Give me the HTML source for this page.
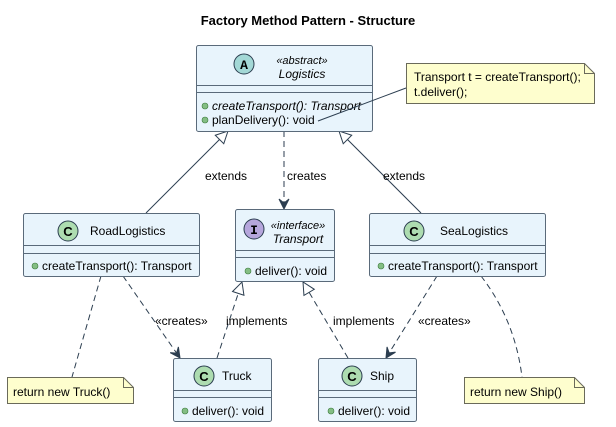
<!DOCTYPE html>
<html><head><meta charset="utf-8"><style>
html,body{margin:0;padding:0;background:#fff;}
svg{display:block;font-family:"Liberation Sans",sans-serif;}
</style></head><body>
<svg width="616" height="427" viewBox="0 0 616 427" xmlns="http://www.w3.org/2000/svg">
<defs>
<marker id="tri" markerWidth="14" markerHeight="14" refX="13" refY="7" orient="auto" markerUnits="userSpaceOnUse">
<path d="M1,1 L13,7 L1,13 Z" fill="#fff" stroke="#2c3e50" stroke-width="1"/></marker>
<marker id="arr" markerWidth="12" markerHeight="12" refX="11" refY="6" orient="auto" markerUnits="userSpaceOnUse">
<path d="M1,1 L11,6 L1,11 L5,6 Z" fill="#2c3e50" stroke="#2c3e50" stroke-width="1"/></marker>
</defs>
<text x="308" y="25" text-anchor="middle" font-size="13" font-weight="bold">Factory Method Pattern - Structure</text>

<g stroke="#2c3e50" stroke-width="1" fill="none">
<line x1="146" y1="213" x2="228" y2="131" marker-end="url(#tri)"/>
<line x1="421" y1="213" x2="339" y2="131" marker-end="url(#tri)"/>
<line x1="284" y1="131" x2="284" y2="209" stroke-dasharray="6,4" marker-end="url(#arr)"/>
<line x1="123" y1="276" x2="180" y2="358" stroke-dasharray="6,4" marker-end="url(#arr)"/>
<line x1="437" y1="276" x2="386" y2="358" stroke-dasharray="6,4" marker-end="url(#arr)"/>
<line x1="217" y1="358" x2="242" y2="282" stroke-dasharray="6,4" marker-end="url(#tri)"/>
<line x1="348" y1="358" x2="303" y2="282" stroke-dasharray="6,4" marker-end="url(#tri)"/>
<line x1="101" y1="276" x2="72" y2="377" stroke-dasharray="6,4"/>
<path d="M481,276 Q515,320 522,377" stroke-dasharray="6,4"/>
</g>
<g font-size="12" fill="#000">
<text x="205" y="180">extends</text>
<text x="383" y="180">extends</text>
<text x="287" y="180">creates</text>
<text x="155" y="325">«creates»</text>
<text x="418" y="325">«creates»</text>
<text x="226" y="325">implements</text>
<text x="333" y="325">implements</text>
</g>

<g stroke="#5a6a7a" stroke-width="1" fill="#e8f4fc">
<rect x="196.5" y="45.5" width="176" height="86" rx="2"/>
<rect x="23.5" y="213.5" width="176" height="63" rx="2"/>
<rect x="235.5" y="209.5" width="99" height="72" rx="2"/>
<rect x="369.5" y="213.5" width="176" height="63" rx="2"/>
<rect x="173.5" y="358.5" width="98" height="63" rx="2"/>
<rect x="318.5" y="358.5" width="98" height="63" rx="2"/>
</g>
<g stroke="#5a6a7a" stroke-width="1">
<line x1="196" y1="85.5" x2="373" y2="85.5"/><line x1="196" y1="92.5" x2="373" y2="92.5"/>
<line x1="23" y1="245.5" x2="200" y2="245.5"/><line x1="23" y1="253.5" x2="200" y2="253.5"/>
<line x1="235" y1="250.5" x2="335" y2="250.5"/><line x1="235" y1="257.5" x2="335" y2="257.5"/>
<line x1="369" y1="245.5" x2="546" y2="245.5"/><line x1="369" y1="253.5" x2="546" y2="253.5"/>
<line x1="173" y1="390.5" x2="272" y2="390.5"/><line x1="173" y1="397.5" x2="272" y2="397.5"/>
<line x1="318" y1="390.5" x2="417" y2="390.5"/><line x1="318" y1="397.5" x2="417" y2="397.5"/>
</g>
<g stroke="#2c3e50" stroke-width="1">
<circle cx="244" cy="64" r="10" fill="#a3d8d6"/>
<circle cx="68" cy="231" r="10" fill="#addcb0"/>
<circle cx="254" cy="229" r="10" fill="#b6a6dc"/>
<circle cx="414" cy="231" r="10" fill="#addcb0"/>
<circle cx="204" cy="376" r="10" fill="#addcb0"/>
<circle cx="352" cy="376" r="10" fill="#addcb0"/>
</g>
<g font-size="13" font-weight="bold" text-anchor="middle" fill="#000">
<text x="244" y="69" font-family="Liberation Mono,monospace">A</text>
<text x="68" y="236">C</text>
<text x="254" y="234" font-family="Liberation Mono,monospace">I</text>
<text x="414" y="236">C</text>
<text x="204" y="381">C</text>
<text x="352" y="381">C</text>
</g>
<g font-size="12" fill="#000">
<text x="302" y="64" text-anchor="middle" font-style="italic" font-size="11">«abstract»</text>
<text x="302" y="78" text-anchor="middle" font-style="italic">Logistics</text>
<text x="90" y="235">RoadLogistics</text>
<text x="298" y="229" text-anchor="middle" font-style="italic" font-size="11">«interface»</text>
<text x="298" y="243" text-anchor="middle" font-style="italic">Transport</text>
<text x="440" y="235">SeaLogistics</text>
<text x="222" y="380">Truck</text>
<text x="370" y="380">Ship</text>
<text x="212" y="110" font-style="italic">createTransport(): Transport</text>
<text x="212" y="124">planDelivery(): void</text>
<text x="42" y="270">createTransport(): Transport</text>
<text x="255" y="275">deliver(): void</text>
<text x="388" y="270">createTransport(): Transport</text>
<text x="192" y="415">deliver(): void</text>
<text x="338" y="415">deliver(): void</text>
</g>
<g fill="#84be84" stroke="#3a7a3a" stroke-width="0.6">
<circle cx="205" cy="106" r="3"/><circle cx="205" cy="120" r="3"/>
<circle cx="35" cy="266" r="3"/><circle cx="248" cy="271" r="3"/>
<circle cx="381" cy="266" r="3"/><circle cx="185" cy="411" r="3"/>
<circle cx="331" cy="411" r="3"/>
</g>
<line x1="318" y1="121" x2="406" y2="88" stroke="#2c3e50" stroke-width="1"/>
<g fill="#fefece" stroke="#6a6a5a" stroke-width="1">
<path d="M406.5,63.5 H584.5 L594.5,73.5 V103.5 H406.5 Z"/>
<path d="M584.5,63.5 V73.5 H594.5" fill="none"/>
<path d="M7.5,377.5 H123.5 L133.5,387.5 V403.5 H7.5 Z"/>
<path d="M123.5,377.5 V387.5 H133.5" fill="none"/>
<path d="M464.5,377.5 H574.5 L584.5,387.5 V403.5 H464.5 Z"/>
<path d="M574.5,377.5 V387.5 H584.5" fill="none"/>
</g>
<g font-size="12" fill="#000">
<text x="414" y="81">Transport t = createTransport();</text>
<text x="414" y="96">t.deliver();</text>
<text x="13" y="396">return new Truck()</text>
<text x="470" y="396">return new Ship()</text>
</g>
</svg>
</body></html>
